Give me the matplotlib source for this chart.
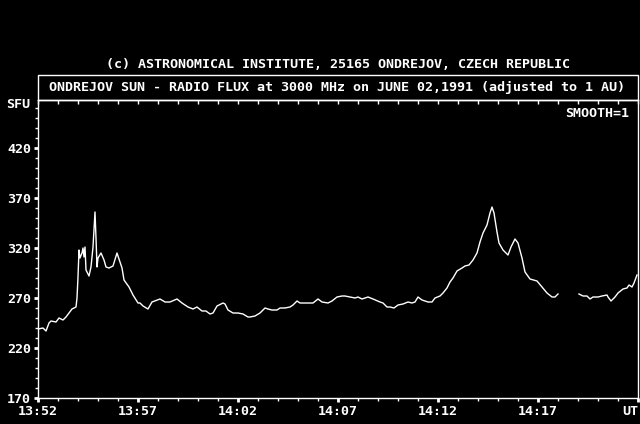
import numpy as np
import matplotlib
matplotlib.use("Agg")
import matplotlib.pyplot as plt
from matplotlib.patches import Rectangle
from matplotlib.ticker import MultipleLocator, FixedLocator

# minutes after 13:52 UT, flux in SFU (gap marked with nan)
minutes = [0.00, 0.25, 0.40, 0.55, 0.65, 0.90, 1.05, 1.25, 1.40, 1.55, 1.70, 1.90,
           1.95, 2.00, 2.05, 2.10, 2.20, 2.25, 2.30, 2.35, 2.40, 2.55, 2.65, 2.75,
           2.85, 2.90, 2.95, 3.00, 3.15, 3.30, 3.40, 3.55, 3.75, 3.95, 4.05, 4.20,
           4.30, 4.55, 4.75, 5.00, 5.10, 5.25, 5.50, 5.70, 6.10, 6.35, 6.60, 6.95,
           7.20, 7.50, 7.75, 7.95, 8.20, 8.40, 8.60, 8.75, 8.95, 9.25, 9.35, 9.50,
           9.75, 10.00, 10.25, 10.50, 10.60, 10.85, 11.10, 11.35, 11.50, 11.70,
           11.95, 12.10, 12.35, 12.60, 12.75, 12.95, 13.10, 13.25, 13.45, 13.75,
           14.00, 14.20, 14.50, 14.70, 14.95, 15.20, 15.35, 15.60, 15.85, 16.00,
           16.20, 16.35, 16.50, 16.75, 17.10, 17.25, 17.45, 17.60, 17.80, 18.00,
           18.25, 18.50, 18.70, 18.85, 19.00, 19.20, 19.35, 19.50, 19.70, 19.85,
           20.10, 20.25, 20.45, 20.60, 20.75, 20.95, 21.20, 21.35, 21.55, 21.75,
           21.95, 22.10, 22.25, 22.45, 22.60, 22.70, 22.80, 22.95, 23.05, 23.25,
           23.50, 23.65, 23.85, 24.00, 24.20, 24.35, 24.60, 24.95, 25.20, 25.45,
           25.70, 25.85, 26.00, 26.50, 27.05, 27.25, 27.45, 27.60, 27.75, 28.00,
           28.20, 28.45, 28.50, 28.65, 28.85, 29.00, 29.25, 29.45, 29.55, 29.70,
           29.80, 29.95]
sfu = [239, 240, 237, 245, 247, 246, 250, 248, 251, 255, 259, 261,
       270, 291, 318, 310, 315, 320, 311, 321, 298, 292, 301, 321,
       356, 330, 301, 310, 315, 308, 301, 300, 302, 315, 309, 300,
       288, 281, 273, 265, 265, 262, 259, 266, 269, 266, 266, 269,
       265, 261, 259, 261, 257, 257, 254, 255, 262, 265, 264, 258,
       255, 255, 254, 251, 251, 252, 255, 260, 259, 258,
       258, 260, 260, 261, 263, 267, 265, 265, 265, 265,
       269, 266, 265, 267, 271, 272, 272, 271, 270, 271,
       269, 270, 271, 269, 266, 265, 261, 261, 260, 263,
       264, 266, 265, 266, 271, 268, 267, 266, 266, 270,
       272, 275, 280, 286, 290, 297, 300, 302, 303, 308,
       315, 326, 335, 343, 355, 361, 355, 336, 325, 318,
       313, 321, 329, 325, 310, 296, 289, 287, 281, 275,
       271, 271, 274, np.nan, 274, 272, 272, 269, 271, 271,
       272, 273, 271, 267, 271, 275, 279, 280, 283, 281,
       285, 293]

x_ticks = [0, 5, 10, 15, 20, 25, 30]
x_labels = ["13:52", "13:57", "14:02", "14:07", "14:12", "14:17", "UT"]
y_ticks = [170, 220, 270, 320, 370, 420]

copyright_text = "(c) ASTRONOMICAL INSTITUTE, 25165 ONDREJOV, CZECH REPUBLIC"
title_text = "ONDREJOV SUN - RADIO FLUX at 3000 MHz on JUNE 02,1991 (adjusted to 1 AU)"

font = dict(family="DejaVu Sans Mono", fontsize=9.6, fontweight="bold", color="white")

fig = plt.figure(figsize=(6.4, 4.24), dpi=100, facecolor="black")
ax = fig.add_axes([38 / 640, 26 / 424, 600 / 640, 298 / 424], facecolor="black")

ax.plot(minutes, sfu, color="white", linewidth=1.0)

ax.set_xlim(0, 30)
ax.set_ylim(170, 468)

for side in ["left", "right", "top", "bottom"]:
    ax.spines[side].set_color("white")
    ax.spines[side].set_linewidth(1.0)

# axes ticks
ax.xaxis.set_major_locator(FixedLocator(x_ticks))
ax.xaxis.set_minor_locator(MultipleLocator(1))
ax.set_xticklabels(x_labels, **font)
ax.xaxis.get_ticklabels()[-1].set_horizontalalignment("right")
ax.yaxis.set_major_locator(FixedLocator(y_ticks))
ax.yaxis.set_minor_locator(MultipleLocator(10))
ax.set_yticklabels([str(v) for v in y_ticks], **font)
ax.tick_params(which="major", direction="out", length=3, width=2, color="white", pad=2)
ax.tick_params(which="minor", direction="out", length=2, width=1, color="white")

# ticks hanging from the top frame
top = ax.secondary_xaxis("top")
top.xaxis.set_major_locator(MultipleLocator(1))
top.tick_params(direction="in", length=3, width=1, color="white", labeltop=False)
top.spines["top"].set_color("white")

# header and title box
fig.text(338 / 640, 1 - 64 / 424, copyright_text, ha="center", va="center", **font)
fig.patches.append(Rectangle((38 / 640, 1 - 100 / 424), 600 / 640, 25 / 424,
                             transform=fig.transFigure, fill=False,
                             edgecolor="white", linewidth=1.0))
fig.text(337 / 640, 1 - 87 / 424, title_text, ha="center", va="center", **font)

fig.text(18 / 640, 1 - 105 / 424, "SFU", ha="center", va="center", **font)
ax.text(0.985, 0.955, "SMOOTH=1", transform=ax.transAxes, ha="right", va="center", **font)

fig.savefig("out.png", dpi=100, facecolor="black")
